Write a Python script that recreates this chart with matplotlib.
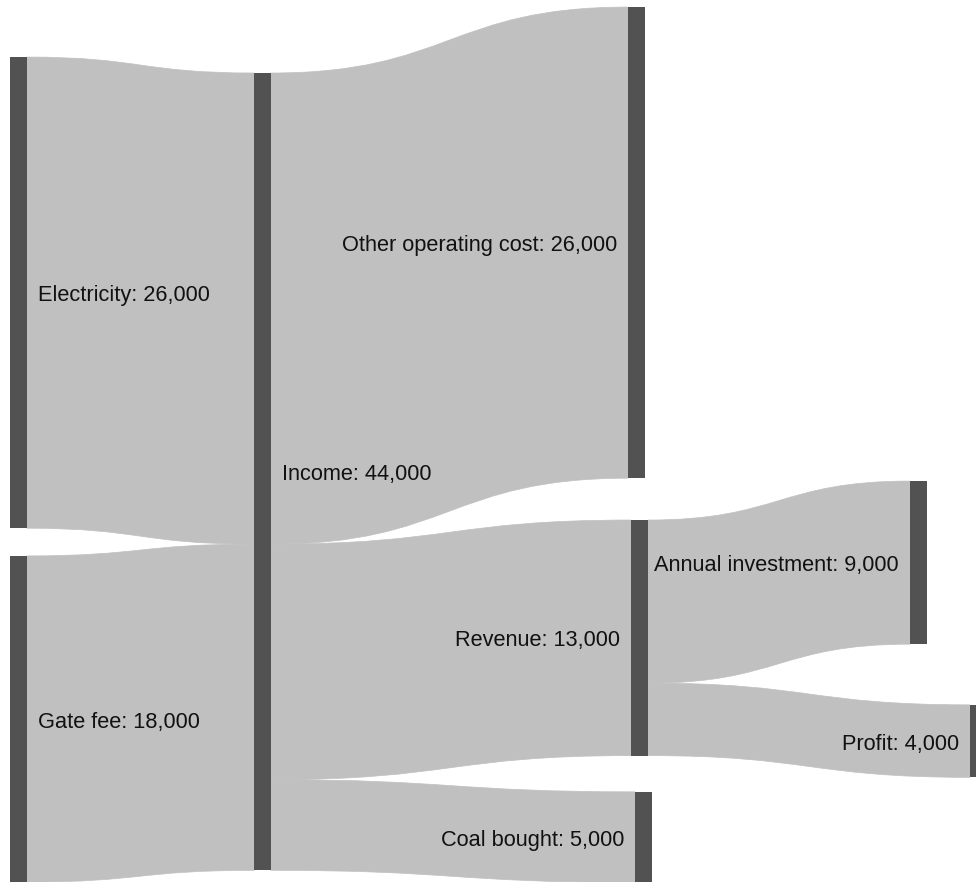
import matplotlib
matplotlib.use("Agg")
import matplotlib.pyplot as plt
from matplotlib.path import Path
from matplotlib.patches import PathPatch, Rectangle

# -------------------------------------------------
# Data
# -------------------------------------------------

node_labels = [
    "Electricity",
    "Gate fee",
    "Income",
    "Other operating cost",
    "Revenue",
    "Coal bought",
    "Annual investment",
    "Profit",
]

link_source = [0, 1, 2, 2, 2, 4, 4]
link_target = [2, 2, 3, 4, 5, 6, 7]
link_value = [26000, 18000, 26000, 13000, 5000, 9000, 4000]

# -------------------------------------------------
# Layout (pixels across, thousands down)
# -------------------------------------------------

fig_w, fig_h = 976, 882
px_per_k = 18.12

node_x = [10, 10, 254, 628, 631, 635, 910, 970]
node_top = [3.15, 30.68, 4.03, 0.39, 28.7, 43.7, 26.55, 38.9]
node_w = 17
label_side = ["right", "right", "right", "left", "left", "left", "left", "left"]
label_drop = 3 / px_per_k

node_color = "#525252"
link_color = "#c0c0c0"

plt.rcParams["font.family"] = ["Liberation Sans", "DejaVu Sans"]

# node value = max(in, out)
n = len(node_labels)
v_in = [0] * n
v_out = [0] * n
for s, t, v in zip(link_source, link_target, link_value):
    v_out[s] += v
    v_in[t] += v
node_value = [max(a, b) / 1000 for a, b in zip(v_in, v_out)]

fig = plt.figure(figsize=(fig_w / 100, fig_h / 100), dpi=100)
ax = fig.add_axes([0, 0, 1, 1])
ax.set_xlim(0, fig_w)
ax.set_ylim(fig_h / px_per_k, 0)
ax.axis("off")

# -------------------------------------------------
# Links
# -------------------------------------------------

out_off = list(node_top)
in_off = list(node_top)

for s, t, v in zip(link_source, link_target, link_value):
    h = v / 1000
    x0 = node_x[s] + node_w
    x1 = node_x[t]
    y0a, y0b = out_off[s], out_off[s] + h
    y1a, y1b = in_off[t], in_off[t] + h
    out_off[s] += h
    in_off[t] += h
    xm = (x0 + x1) / 2
    verts = [
        (x0, y0a), (xm, y0a), (xm, y1a), (x1, y1a),
        (x1, y1b),
        (xm, y1b), (xm, y0b), (x0, y0b),
        (x0, y0a),
    ]
    codes = [
        Path.MOVETO, Path.CURVE4, Path.CURVE4, Path.CURVE4,
        Path.LINETO,
        Path.CURVE4, Path.CURVE4, Path.CURVE4,
        Path.CLOSEPOLY,
    ]
    ax.add_patch(PathPatch(Path(verts, codes), facecolor=link_color,
                           edgecolor=link_color, linewidth=0.5))

# -------------------------------------------------
# Nodes and labels
# -------------------------------------------------

for i, label in enumerate(node_labels):
    ax.add_patch(Rectangle((node_x[i], node_top[i]), node_w, node_value[i],
                           facecolor=node_color, edgecolor="none"))
    text = f"{label}: {node_value[i] * 1000:,.0f}"
    yc = node_top[i] + node_value[i] / 2 + label_drop
    if label_side[i] == "right":
        ax.text(node_x[i] + node_w + 11, yc, text, ha="left", va="center",
                fontsize=15.7, color="#111111")
    else:
        ax.text(node_x[i] - 11, yc, text, ha="right", va="center",
                fontsize=15.7, color="#111111")

fig.savefig("out.png", dpi=100)
